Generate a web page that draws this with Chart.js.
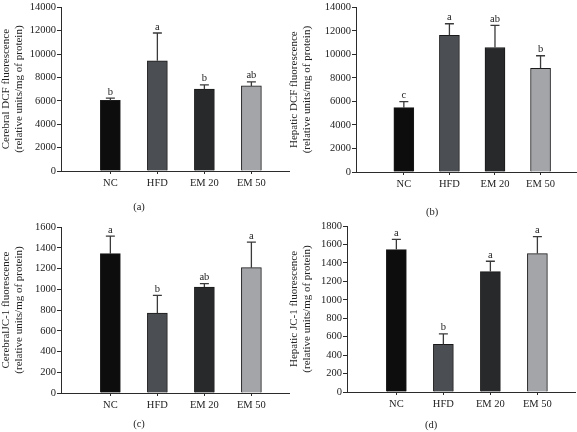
<!DOCTYPE html>
<html>
<head>
<meta charset="utf-8">
<script src="https://cdn.jsdelivr.net/npm/chart.js@4.4.1/dist/chart.umd.min.js"></script>
<style>
  html, body { margin: 0; padding: 0; background: #fff; }
  #wrap { position: relative; width: 577px; height: 432px; overflow: hidden; }
  .panel { position: absolute; }
</style>
</head>
<body>
<div id="wrap">
  <div class="panel" style="left:0;top:0;width:290px;height:222px;"><canvas id="chartA"></canvas></div>
  <div class="panel" style="left:288px;top:0;width:289px;height:222px;"><canvas id="chartB"></canvas></div>
  <div class="panel" style="left:0;top:215px;width:290px;height:217px;"><canvas id="chartC"></canvas></div>
  <div class="panel" style="left:288px;top:215px;width:289px;height:217px;"><canvas id="chartD"></canvas></div>
</div>
<script>
// ================== DATA ==================
const groups = ['NC', 'HFD', 'EM 20', 'EM 50'];

const cerebralDCF    = [6040, 9420, 7000, 7280];
const cerebralDCFErr = [200, 2380, 370, 340];
const cerebralDCFSig = ['b', 'a', 'b', 'ab'];

const hepaticDCF    = [5470, 11620, 10580, 8810];
const hepaticDCFErr = [510, 980, 1880, 1070];
const hepaticDCFSig = ['c', 'a', 'ab', 'b'];

const cerebralJC1    = [1343, 771, 1021, 1208];
const cerebralJC1Err = [170, 170, 33, 247];
const cerebralJC1Sig = ['a', 'b', 'ab', 'a'];

const hepaticJC1    = [1544, 516, 1306, 1501];
const hepaticJC1Err = [112, 115, 112, 184];
const hepaticJC1Sig = ['a', 'b', 'a', 'a'];

const barColors = ['#0d0d0d', '#4b4e52', '#27292b', '#a3a5a8'];
const FONT = "'Liberation Serif', 'DejaVu Serif', serif";
const INK  = '#2b2b2b';

// ================== PLUGINS ==================
// error bars (upper whisker only) + significance letters
const errorBarPlugin = {
    id: 'errorBars',
    afterDatasetsDraw(chart, args, opts) {
        const ctx  = chart.ctx;
        const meta = chart.getDatasetMeta(0);
        const y    = chart.scales.y;
        const vals = chart.data.datasets[0].data;
        ctx.save();
        meta.data.forEach((bar, i) => {
            let topPx = y.getPixelForValue(vals[i].y + opts.err[i]);
            ctx.strokeStyle = '#3a3a3a';
            ctx.lineWidth   = 1.3;
            ctx.beginPath();
            ctx.moveTo(bar.x, bar.y);
            ctx.lineTo(bar.x, topPx);
            ctx.moveTo(bar.x - 4.5, topPx);
            ctx.lineTo(bar.x + 4.5, topPx);
            ctx.stroke();

            ctx.fillStyle    = '#222';
            ctx.font         = "10.5px " + FONT;
            ctx.textAlign    = 'center';
            ctx.textBaseline = 'bottom';
            ctx.fillText(opts.sig[i], bar.x, topPx - 1);
        });
        ctx.restore();
    }
};

const panelLabelPlugin = {
    id: 'panelLabel',
    afterDraw(chart, args, opts) {
        const ctx = chart.ctx;
        ctx.save();
        ctx.fillStyle    = '#222';
        ctx.font         = "10.5px " + FONT;
        ctx.textAlign    = 'center';
        ctx.textBaseline = 'middle';
        ctx.fillText(opts.text, opts.x, opts.y);
        ctx.restore();
    }
};

// ================== CHART BUILDER ==================
function makeChart(id, cfg) {
    const data = groups.map((g, i) => ({ x: i + 1, y: cfg.values[i] }));

    return new Chart(document.getElementById(id), {
        type: 'bar',
        data: {
            datasets: [{
                data: data,
                backgroundColor: barColors,
                borderColor: '#1a1a1a',
                borderWidth: 1,
                barThickness: 20
            }]
        },
        options: {
            responsive: true,
            maintainAspectRatio: false,
            animation: false,
            layout: { padding: { top: cfg.top, right: cfg.right, left: 0, bottom: cfg.bottom } },
            plugins: {
                legend: { display: false },
                tooltip: { enabled: false },
                errorBars: { err: cfg.err, sig: cfg.sig },
                panelLabel: { text: cfg.label, x: cfg.labelX, y: cfg.labelY }
            },
            scales: {
                x: {
                    type: 'linear',
                    offset: false,
                    bounds: 'data',
                    min: -0.05,
                    max: 4.8,
                    afterBuildTicks: s => { s.ticks = [1, 2, 3, 4].map(v => ({ value: v })); },
                    afterFit: s => { s.height = cfg.xHeight; },
                    ticks: {
                        callback: v => groups[v - 1],
                        font: { family: FONT, size: 10.5 },
                        color: '#222',
                        padding: 3,
                        maxRotation: 0,
                        autoSkip: false
                    },
                    grid: { offset: false, drawOnChartArea: false, drawTicks: true, tickLength: 3, color: INK },
                    border: { display: true, color: INK, width: 1 }
                },
                y: {
                    min: 0,
                    max: cfg.max,
                    afterFit: s => { s.width = cfg.yWidth; },
                    ticks: {
                        stepSize: cfg.step,
                        callback: v => String(v),
                        font: { family: FONT, size: 10.5 },
                        color: '#222',
                        padding: 1
                    },
                    grid: { drawOnChartArea: false, drawTicks: true, tickLength: 4, color: INK },
                    border: { display: true, color: INK, width: 1 },
                    title: {
                        display: true,
                        text: cfg.title,
                        font: { family: FONT, size: 11, lineHeight: 1.15 },
                        color: '#222',
                        padding: { top: 0, bottom: 0 }
                    }
                }
            }
        },
        plugins: [errorBarPlugin, panelLabelPlugin]
    });
}

makeChart('chartA', {
    values: cerebralDCF, err: cerebralDCFErr, sig: cerebralDCFSig,
    max: 14000, step: 2000,
    title: ['Cerebral DCF fluorescence', '(relative units/mg of protein)'],
    top: 5, right: 1, bottom: 7, yWidth: 61, xHeight: 44,
    label: '(a)', labelX: 139, labelY: 207
});

makeChart('chartB', {
    values: hepaticDCF, err: hepaticDCFErr, sig: hepaticDCFSig,
    max: 14000, step: 2000,
    title: ['Hepatic DCF fluorescence', '(relative units/mg of protein)'],
    top: 6, right: 0, bottom: 7, yWidth: 68, xHeight: 43,
    label: '(b)', labelX: 144, labelY: 212
});

makeChart('chartC', {
    values: cerebralJC1, err: cerebralJC1Err, sig: cerebralJC1Sig,
    max: 1600, step: 200,
    title: ['CerebralJC-1 fluorescence', '(relative units/mg of protein)'],
    top: 12, right: 1, bottom: 0, yWidth: 61, xHeight: 39,
    label: '(c)', labelX: 139, labelY: 209
});

makeChart('chartD', {
    values: hepaticJC1, err: hepaticJC1Err, sig: hepaticJC1Sig,
    max: 1800, step: 200,
    title: ['Hepatic JC-1 fluorescence', '(relative units/mg of protein)'],
    top: 11, right: 2, bottom: 0, yWidth: 59, xHeight: 40,
    label: '(d)', labelX: 143, labelY: 210
});
</script>
</body>
</html>
